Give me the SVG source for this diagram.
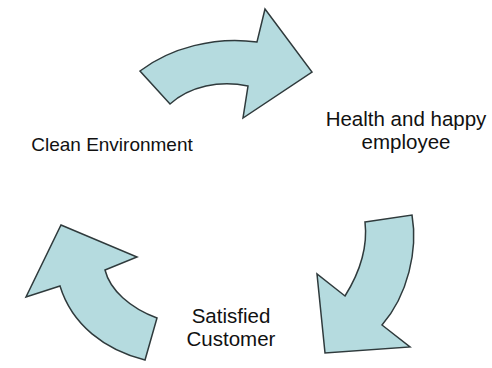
<svg xmlns="http://www.w3.org/2000/svg" width="492" height="368" viewBox="0 0 492 368">
  <style>
    .arrow { fill: #b5dbdf; stroke: #2f3a3c; stroke-width: 1.5; stroke-linejoin: miter; }
    .label { font-family: "Liberation Sans", Arial, sans-serif; font-size: 20.5px; fill: #111; text-anchor: middle; }
  </style>
  <rect width="492" height="368" fill="#ffffff"/>

  <!-- curved block arrows forming the cycle -->
  <g id="connectors">
    <path id="arrow-top" class="arrow" d="M140,71 C170,48 215,36 257,42 L265,9 L312,72 L243,118 L248,86 C220,80 190,86 170,104 Z"/>
    <path id="arrow-right" class="arrow" d="M365,222 L412,215 C418,250 408,295 382,325 L410,347 L325,353 L317,274 L345,296 C360,272 368,248 365,222 Z"/>
    <path id="arrow-left" class="arrow" d="M61,225 L137,257 L105,270 C110,290 130,308 157,318 L145,360 C105,350 72,325 60,286 L26,297 Z"/>
  </g>

  <g id="node-clean-environment">
    <text class="label" x="112" y="151" style="font-size:19px">Clean Environment</text>
  </g>
  <g id="node-healthy-employee">
    <text class="label" x="406" y="126">Health and happy</text>
    <text class="label" x="406" y="149">employee</text>
  </g>
  <g id="node-satisfied-customer">
    <text class="label" x="231" y="323">Satisfied</text>
    <text class="label" x="231" y="346">Customer</text>
  </g>
</svg>
